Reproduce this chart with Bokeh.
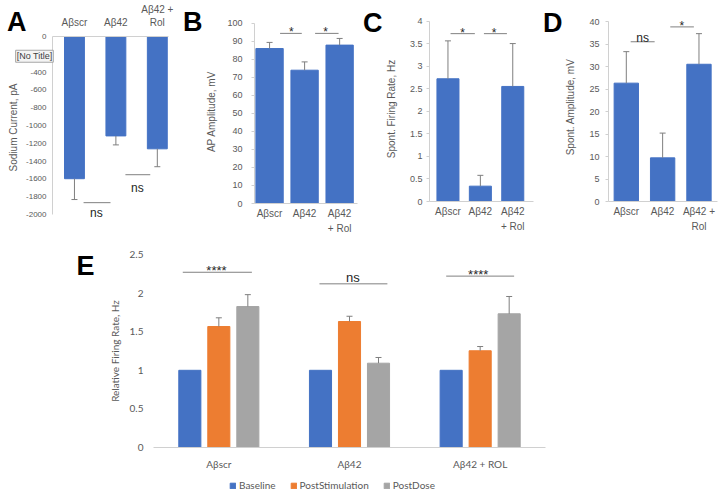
from bokeh.plotting import figure
from bokeh.models import (ColumnDataSource, Whisker, TeeHead, Label, Legend, LegendItem,
                          FixedTicker, Range1d, NumeralTickFormatter, LinearAxis)
from bokeh.layouts import column, row
from bokeh.transform import dodge
from bokeh.embed import file_html
from bokeh.resources import INLINE
from bokeh.core.properties import value

# ---------------- data ----------------
cat_A = ["Aβscr", "Aβ42", "Aβ42 +\nRol"]
cat_B = ["Aβscr", "Aβ42", "Aβ42\n+ Rol"]
cat_C = ["Aβscr", "Aβ42", "Aβ42\n+ Rol"]
cat_D = ["Aβscr", "Aβ42", "Aβ42 +\nRol"]

sodium_current = [-1598, -1117, -1262]
sodium_sem = [234, 101, 201]
ap_amplitude = [85.9, 73.9, 87.8]
ap_sem = [3.4, 4.6, 3.7]
firing_rate = [2.72, 0.34, 2.55]
firing_sem = [0.84, 0.24, 0.95]
spont_amplitude = [26.3, 9.7, 30.5]
spont_sem = [7.0, 5.5, 6.8]

cat_E = ["Aβscr", "Aβ42", "Aβ42 + ROL"]
series_E = ["Baseline", "PostStimulation", "PostDose"]
rel_baseline = [1.0, 1.0, 1.0]
rel_post_stim = [1.567, 1.632, 1.253]
rel_post_stim_sem = [0.113, 0.068, 0.055]
rel_post_dose = [1.826, 1.092, 1.732]
rel_post_dose_sem = [0.154, 0.074, 0.224]

ticks_A = list(range(-2000, 1, 200))
ticks_B = list(range(0, 101, 10))
ticks_C = [0, 0.5, 1, 1.5, 2, 2.5, 3, 3.5, 4]
ticks_D = list(range(0, 41, 5))
ticks_E = [0, 0.5, 1, 1.5, 2, 2.5]

# significance brackets: (x_start, x_end, y_line, text, text_x, text_y)
sig_A = [(0.22, 0.87, -1867, "ns", 0.53, -1985), (1.23, 1.83, -1553, "ns", 1.52, -1701)]
sig_B = [(0.30, 0.92, 94.3, "*", 0.62, 94.8), (1.30, 1.97, 94.3, "*", 1.60, 94.8)]
sig_C = [(0.08, 0.83, 3.72, "*", 0.45, 3.74), (1.11, 1.82, 3.72, "*", 1.42, 3.74)]
sig_D = [(0.12, 0.78, 35.5, "ns", 0.45, 36.4), (1.21, 1.86, 38.8, "*", 1.53, 39.0)]
sig_E = [(-0.276, 0.253, 2.27, "****", -0.018, 2.29), (0.77, 1.29, 2.12, "ns", 1.025, 2.20),
         (1.74, 2.26, 2.22, "****", 1.985, 2.24)]

# ---------------- style ----------------
FONT = "Liberation Sans"
FONT_E = "Lato"
TXT = "#595959"
AXC = "#d0d0d0"
BLUE, ORANGE, GRAY = "#4472C4", "#ED7D31", "#A5A5A5"
ERR = "#7f7f7f"


def make_fig(fig_box, frame_box, xr, yr, x_loc="below"):
    fl, ft, fr, fb = fig_box
    xl, yt, xrr, yb = frame_box
    w, h = fr - fl, fb - ft
    p = figure(width=w, height=h, x_range=Range1d(*xr), y_range=Range1d(*yr),
               output_backend="svg", toolbar_location=None, x_axis_location=x_loc,
               min_border_left=round(xl - fl), min_border_right=round(fr - xrr),
               min_border_top=round(yt - ft), min_border_bottom=round(fb - yb),
               frame_align=False)
    p.outline_line_color = None
    p.grid.grid_line_color = None
    for ax in p.axis:
        ax.axis_line_color = AXC
        ax.major_tick_line_color = AXC
        ax.minor_tick_line_color = None
        ax.minor_tick_out = 0
        ax.minor_tick_in = 0
        ax.major_label_text_color = TXT
        ax.axis_label_text_color = TXT
        ax.axis_label_text_font_style = "normal"
    return p


def letter_axis(p, txt, tick, standoff, line_height=1.2):
    ax = LinearAxis(ticker=FixedTicker(ticks=[tick]), major_label_overrides={tick: txt},
                    axis_line_color=None, major_tick_line_color=None, minor_tick_line_color=None,
                    major_tick_out=0, minor_tick_out=0, major_tick_in=0, minor_tick_in=0,
                    major_label_standoff=standoff, major_label_text_font=FONT,
                    major_label_text_font_size="27px", major_label_text_font_style="bold",
                    major_label_text_color="black", major_label_text_line_height=line_height)
    p.add_layout(ax, "left")
    return ax


def top_panel(fig_box, frame_box, xr, yr, bounds, ticks, cats, means, sems, bar_w, ylabel, fmt,
              tick_size, std, lab_std, x_loc, cat_std, cat_lh, sigs, down=False):
    p = make_fig(fig_box, frame_box, xr, yr, x_loc)
    idx = list(range(len(cats)))
    if down:
        ends = [m - s for m, s in zip(means, sems)]
    else:
        ends = [m + s for m, s in zip(means, sems)]
    src = ColumnDataSource(dict(x=idx, top=means, end=ends))
    p.vbar(x="x", top="top", bottom=0, width=bar_w, source=src, fill_color=BLUE, line_color=BLUE)
    if down:
        wk = Whisker(base="x", upper="top", lower="end", source=src, upper_head=None,
                     lower_head=TeeHead(size=6, line_color=ERR, line_width=1),
                     line_color=ERR, line_width=1, level="annotation")
    else:
        wk = Whisker(base="x", upper="end", lower="top", source=src, lower_head=None,
                     upper_head=TeeHead(size=6, line_color=ERR, line_width=1),
                     line_color=ERR, line_width=1, level="annotation")
    p.add_layout(wk)
    yax = p.yaxis[0]
    yax.ticker = FixedTicker(ticks=ticks)
    yax.formatter = NumeralTickFormatter(format=fmt)
    yax.bounds = bounds
    yax.major_tick_out = 3
    yax.major_tick_in = 0
    yax.major_label_text_font = FONT
    yax.major_label_text_font_size = tick_size
    yax.major_label_standoff = std
    yax.axis_label = ylabel
    yax.axis_label_text_font = FONT
    yax.axis_label_text_font_size = "10px"
    yax.axis_label_standoff = lab_std
    xax = p.xaxis[0]
    xax.ticker = FixedTicker(ticks=idx)
    xax.major_label_overrides = {i: c for i, c in zip(idx, cats)}
    xax.major_tick_out = 0
    xax.major_tick_in = 0
    xax.major_label_text_font = FONT
    xax.major_label_text_font_size = "10px"
    xax.major_label_text_line_height = cat_lh
    xax.major_label_standoff = cat_std
    s = ColumnDataSource(dict(x0=[q[0] for q in sigs], x1=[q[1] for q in sigs],
                              y=[q[2] for q in sigs], t=[q[3] for q in sigs],
                              tx=[q[4] for q in sigs], ty=[q[5] for q in sigs]))
    p.segment(x0="x0", y0="y", x1="x1", y1="y", source=s, line_color="#808080", line_width=1)
    p.text(x="tx", y="ty", text="t", source=s, text_font=value(FONT), text_font_size="12px",
           text_color="#262626", text_align="center", text_baseline="alphabetic")
    return p


# ---- panel A ----
pA = top_panel((0, 0, 180, 237), (52, 35, 168, 218), (-0.53, 2.27), (-2045, 0), (-2000, 0),
               ticks_A, cat_A, sodium_current, sodium_sem, 0.48, "Sodium Current, pA", "0",
               "8px", 6, 4, "above", 9, 1.15, sig_A, down=True)
pA.yaxis[0].major_tick_out = 0
letter_axis(pA, "A\n ", 0, -21, line_height=1.0)
pA.add_layout(Label(x=-1.42, y=-222, text="[No Title]",
                    text_font=FONT, text_font_size="9px", text_color="#404040",
                    text_baseline="middle", text_align="left",
                    background_fill_color="#f4f4f4", border_line_color="#a6a6a6",
                    padding=1), "below")

# ---- panel B ----
pB = top_panel((0, 0, 180, 237), (68, 19.4, 177, 203), (-0.43, 2.51), (0, 102), (0, 100),
               ticks_B, cat_B, ap_amplitude, ap_sem, 0.78, "AP Amplitude, mV", "0",
               "9px", 9, 7, "below", 4, 1.4, sig_B)
letter_axis(pB, "B", 100.8, 1)

# ---- panel C ----
pC = top_panel((0, 0, 180, 237), (60, 16.2, 173, 201), (-0.57, 2.64), (0, 4.1), (0, 4),
               ticks_C, cat_C, firing_rate, firing_sem, 0.68, "Spont. Firing Rate, Hz", "0.[0]",
               "9px", 4, 10, "below", 4, 1.4, sig_C)
letter_axis(pC, "C", 3.96, 0)

# ---- panel D ----
pD = top_panel((0, 0, 178, 237), (61, 11.7, 177, 201), (-0.49, 2.51), (0, 42), (0, 40),
               ticks_D, cat_D, spont_amplitude, spont_sem, 0.67, "Spont. Amplitude, mV", "0",
               "9px", 6, 10, "below", 4, 1.4, sig_D)
letter_axis(pD, "D", 39.7, 0)

# ---- panel E ----
pE = make_fig((0, 237, 718, 478), (153, 254, 545, 447), (-0.5, 2.5), (0, 2.5))
idxE = list(range(len(cat_E)))
srcE = ColumnDataSource(dict(
    x=idxE, base=rel_baseline, stim=rel_post_stim,
    stim_end=[m + s for m, s in zip(rel_post_stim, rel_post_stim_sem)],
    dose=rel_post_dose,
    dose_end=[m + s for m, s in zip(rel_post_dose, rel_post_dose_sem)]))
off = 0.222
bw = 0.169
cols_E = ("base", "stim", "dose")
colors_E = (BLUE, ORANGE, GRAY)
for col, dx, c in zip(cols_E, (-off, 0, off), colors_E):
    pE.vbar(x=dodge("x", dx, range=pE.x_range), top=col, width=bw, source=srcE,
            fill_color=c, line_color=c)
for col_lo, col_hi, dx in (("stim", "stim_end", 0), ("dose", "dose_end", off)):
    pE.add_layout(Whisker(base=dodge("x", dx, range=pE.x_range), lower=col_lo, upper=col_hi,
                          source=srcE, lower_head=None,
                          upper_head=TeeHead(size=6, line_color=ERR, line_width=1),
                          line_color=ERR, line_width=1, level="annotation"))
yE = pE.yaxis[0]
yE.ticker = FixedTicker(ticks=ticks_E)
yE.formatter = NumeralTickFormatter(format="0.[0]")
yE.axis_line_color = None
yE.major_tick_line_color = None
yE.major_tick_out = 0
yE.major_label_text_font = FONT_E
yE.major_label_text_font_size = "10px"
yE.major_label_standoff = 10
yE.axis_label = "Relative Firing Rate, Hz"
yE.axis_label_text_font = FONT_E
yE.axis_label_text_font_size = "10px"
yE.axis_label_standoff = 6
xE = pE.xaxis[0]
xE.ticker = FixedTicker(ticks=idxE)
xE.major_label_overrides = {i: c for i, c in zip(idxE, cat_E)}
xE.major_tick_line_color = None
xE.major_tick_out = 0
xE.major_label_text_font = FONT_E
xE.major_label_text_font_size = "10px"
xE.major_label_standoff = 10
sE = ColumnDataSource(dict(x0=[q[0] for q in sig_E], x1=[q[1] for q in sig_E],
                           y=[q[2] for q in sig_E], t=[q[3] for q in sig_E],
                           tx=[q[4] for q in sig_E], ty=[q[5] for q in sig_E]))
pE.segment(x0="x0", y0="y", x1="x1", y1="y", source=sE, line_color="#808080", line_width=1)
pE.text(x="tx", y="ty", text="t", source=sE, text_font=value(FONT), text_font_size="13px",
        text_color="#262626", text_align="center", text_baseline="alphabetic")
letter_axis(pE, "E", 2.345, 11)

# ---- legend strip for E (its bars lie outside this strip's view; only the key shows) ----
pL = figure(width=718, height=13, x_range=Range1d(0, 1), y_range=Range1d(5, 6),
            output_backend="svg", toolbar_location=None, min_border=0,
            x_axis_location=None, y_axis_location=None, frame_align=False)
pL.outline_line_color = None
pL.grid.visible = False
legend_renderers = [pL.vbar(x="x", top=col, width=0.1, source=srcE, fill_color=c, line_color=c)
                    for col, c in zip(cols_E, colors_E)]
legend = Legend(items=[LegendItem(label=lab, renderers=[r])
                       for lab, r in zip(series_E, legend_renderers)],
                orientation="horizontal", location=(229, 0),
                label_text_font=FONT_E, label_text_font_size="10px", label_text_color=TXT,
                glyph_width=7, glyph_height=7, spacing=14, label_standoff=3,
                border_line_color=None, background_fill_alpha=0, padding=0, margin=0)
pL.add_layout(legend)

layout = column(row(pA, pB, pC, pD), pE, pL)
open("out.html", "w").write(file_html(layout, INLINE))
